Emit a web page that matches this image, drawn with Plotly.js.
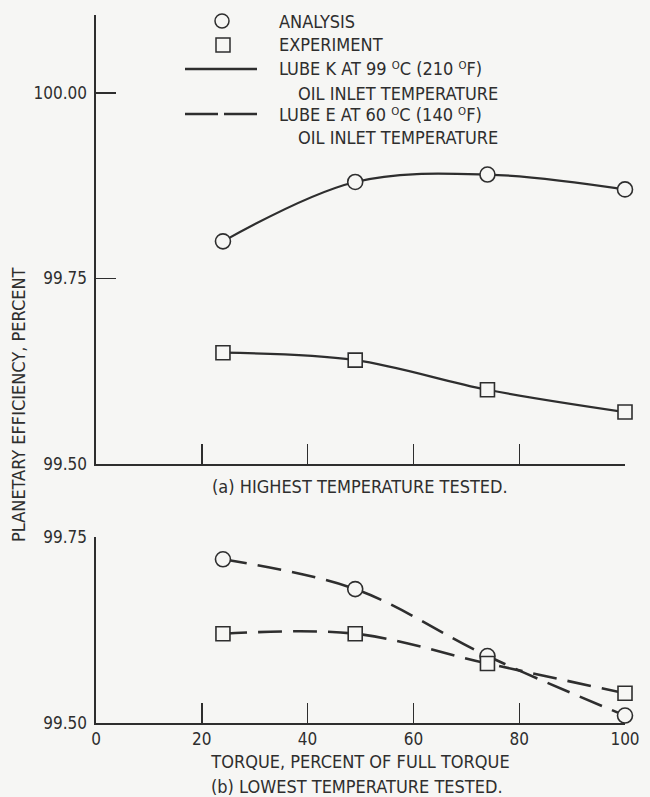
<!DOCTYPE html>
<html><head><meta charset="utf-8">
<script src="https://cdn.plot.ly/plotly-3.0.1.min.js"></script>
<style>html,body{margin:0;padding:0;background:#f6f6f4}</style>
</head><body><div id="chart" style="width:650px;height:797px"></div>
<script>
// ---- data ----
const torque = [24, 49, 74, 100];
const hiAnalysis = [99.80, 99.88, 99.89, 99.87];
const hiExperiment = [99.65, 99.64, 99.60, 99.57];
const loAnalysis = [99.72, 99.68, 99.59, 99.51];
const loExperiment = [99.62, 99.62, 99.58, 99.54];
const xTicksHi = [20, 40, 60, 80, 100];
const xTicks = [0, 20, 40, 60, 80, 100];
const xTickText = ['0', '20', '40', '60', '80', '100'];
const yTicksHi = [99.5, 99.75, 100.0];
const yTickTextHi = ['99.50', '99.75', '100.00'];
const yTicksLo = [99.5, 99.75];
const yTickTextLo = ['99.50', '99.75'];
const legendLabels = ['ANALYSIS', 'EXPERIMENT', 'LUBE K AT 99 \u1D3CC (210 \u1D3CF)',
  'OIL INLET TEMPERATURE', 'LUBE E AT 60 \u1D3CC (140 \u1D3CF)', 'OIL INLET TEMPERATURE'];
const yTitle = 'PLANETARY EFFICIENCY, PERCENT';
const xTitle = 'TORQUE, PERCENT OF FULL TORQUE';
const capA = '(a) HIGHEST TEMPERATURE TESTED.';
const capB = '(b) LOWEST TEMPERATURE TESTED.';

// ---- styling ----
const W = 650, H = 797;
const px = x => x / W;
const py = y => 1 - y / H;
const INK = '#2e2e2e';
const BG = '#f6f6f4';
const FONT = '"DejaVu Sans Condensed", "Liberation Sans Narrow", "DejaVu Sans", sans-serif';
const TXT = 18;

function series(x, y, xa, ya, sym, dash) {
  return {
    x: x, y: y, xaxis: xa, yaxis: ya, type: 'scatter', mode: 'lines+markers',
    cliponaxis: false, showlegend: false, hoverinfo: 'skip',
    line: {shape: 'spline', smoothing: 1, color: INK, width: dash ? 2.6 : 2.2, dash: dash || 'solid'},
    marker: {symbol: sym, size: sym === 'circle' ? 15 : 14, color: BG, line: {color: INK, width: 1.6}}
  };
}
const DASH = '24px,11px';
const data = [
  series(torque, hiAnalysis, 'x', 'y', 'circle'),
  series(torque, hiExperiment, 'x', 'y', 'square'),
  series(torque, loAnalysis, 'x2', 'y2', 'circle', DASH),
  series(torque, loExperiment, 'x2', 'y2', 'square', DASH)
];

const axisCommon = {
  showline: true, linecolor: INK, linewidth: 1.6, showgrid: false, zeroline: false,
  ticks: 'inside', ticklen: 20, tickwidth: 1.4, tickcolor: INK, fixedrange: true,
  tickfont: {family: FONT, size: 17, color: INK}, automargin: false
};
const xDom = [px(96), px(625)];

const layout = {
  width: W, height: H,
  margin: {l: 0, r: 0, t: 0, b: 0},
  paper_bgcolor: BG, plot_bgcolor: 'rgba(0,0,0,0)',
  font: {family: FONT, color: INK, size: TXT},
  xaxis: Object.assign({}, axisCommon, {domain: xDom, range: [0, 100], anchor: 'y',
    tickmode: 'array', tickvals: xTicksHi, showticklabels: false}),
  yaxis: Object.assign({}, axisCommon, {domain: [py(464), py(15)], range: [99.5, 100.105], anchor: 'x',
    tickmode: 'array', tickvals: yTicksHi, ticktext: yTickTextHi, ticklabelstandoff: 4}),
  xaxis2: Object.assign({}, axisCommon, {domain: xDom, range: [0, 100], anchor: 'y2',
    tickmode: 'array', tickvals: xTicks, ticktext: xTickText,
    title: {text: xTitle, font: {family: FONT, size: TXT, color: INK}, standoff: 7}}),
  yaxis2: Object.assign({}, axisCommon, {domain: [py(723), py(537)], range: [99.5, 99.75], anchor: 'x2',
    tickmode: 'array', tickvals: yTicksLo, ticktext: yTickTextLo, ticklabelstandoff: 4}),
  shapes: [
    {type: 'circle', xref: 'paper', yref: 'paper', x0: px(215), x1: px(229), y0: py(28), y1: py(14),
      line: {color: INK, width: 1.5}, fillcolor: BG},
    {type: 'rect', xref: 'paper', yref: 'paper', x0: px(216), x1: px(230), y0: py(52), y1: py(38),
      line: {color: INK, width: 1.5}, fillcolor: BG},
    {type: 'line', xref: 'paper', yref: 'paper', x0: px(185), x1: px(257), y0: py(69), y1: py(69),
      line: {color: INK, width: 2.4}},
    {type: 'line', xref: 'paper', yref: 'paper', x0: px(185), x1: px(257), y0: py(114), y1: py(114),
      line: {color: INK, width: 2.4, dash: '33px,6px'}}
  ],
  annotations: []
};

const legX = [277, 277, 277, 296, 277, 296];
const legY = [21, 45, 69, 93, 114, 138];
legendLabels.forEach((t, i) => layout.annotations.push({
  xref: 'paper', yref: 'paper', x: px(legX[i]), y: py(legY[i]), xanchor: 'left', yanchor: 'middle',
  text: t, showarrow: false, font: {family: FONT, size: TXT, color: INK}
}));
layout.annotations.push({xref: 'paper', yref: 'paper', x: px(18), y: py(405), textangle: -90,
  text: yTitle, showarrow: false, xanchor: 'center', yanchor: 'middle', font: {family: FONT, size: 18, color: INK}});
layout.annotations.push({xref: 'paper', yref: 'paper', x: px(360), y: py(486), text: capA, showarrow: false,
  xanchor: 'center', yanchor: 'middle', font: {family: FONT, size: TXT, color: INK}});
layout.annotations.push({xref: 'paper', yref: 'paper', x: px(357), y: py(786), text: capB, showarrow: false,
  xanchor: 'center', yanchor: 'middle', font: {family: FONT, size: TXT, color: INK}});

Plotly.newPlot('chart', data, layout, {staticPlot: true, displayModeBar: false});
</script></body></html>
